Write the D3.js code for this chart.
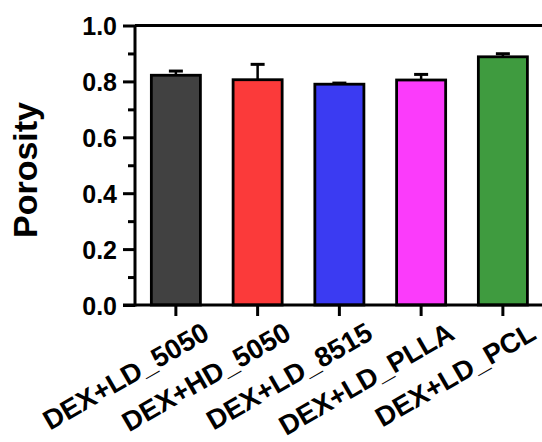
<!DOCTYPE html>
<html>
<head>
<meta charset="utf-8">
<script src="https://cdn.jsdelivr.net/npm/d3@7"></script>
<style>
  html, body { margin: 0; padding: 0; background: #fff; }
  svg { display: block; }
  text { font-family: "Liberation Sans", Arial, sans-serif; font-weight: bold; fill: #000; }
</style>
</head>
<body>
<script>
const categories = ["DEX+LD_5050", "DEX+HD_5050", "DEX+LD_8515", "DEX+LD_PLLA", "DEX+LD_PCL"];
const porosity   = [0.822, 0.806, 0.790, 0.805, 0.888];
const errors     = [0.015, 0.055, 0.004, 0.020, 0.011];
const colors     = ["#414141", "#fb3a3a", "#3b3bf2", "#fb3bfb", "#3f9b3f"];
const yTicks     = [0.0, 0.2, 0.4, 0.6, 0.8, 1.0];
const yMinorTicks = [0.1, 0.3, 0.5, 0.7, 0.9];

const W = 542, H = 442;
const x0 = 135, x1 = 543.75, yBottom = 305, yTop = 25.5;

const svg = d3.select("body").append("svg").attr("width", W).attr("height", H);

const x = d3.scaleBand().domain(categories).range([x0, x1]).paddingInner(0.4).paddingOuter(0.2);
const y = d3.scaleLinear().domain([0, 1]).range([yBottom, yTop]);

// top frame line
svg.append("line").attr("x1", x0).attr("x2", W + 5).attr("y1", y(1)).attr("y2", y(1))
  .attr("stroke", "#000").attr("stroke-width", 3);

const data = categories.map((c, i) => ({ c, v: porosity[i], e: errors[i], col: colors[i] }));

// error bars (upper only)
const capW = 14;
svg.selectAll("line.err").data(data).enter().append("line")
  .attr("x1", d => x(d.c) + x.bandwidth() / 2).attr("x2", d => x(d.c) + x.bandwidth() / 2)
  .attr("y1", d => y(d.v)).attr("y2", d => y(d.v + d.e))
  .attr("stroke", "#000").attr("stroke-width", 2.5);
svg.selectAll("line.cap").data(data).enter().append("line")
  .attr("x1", d => x(d.c) + x.bandwidth() / 2 - capW / 2).attr("x2", d => x(d.c) + x.bandwidth() / 2 + capW / 2)
  .attr("y1", d => y(d.v + d.e)).attr("y2", d => y(d.v + d.e))
  .attr("stroke", "#000").attr("stroke-width", 3);

// bars
svg.selectAll("rect.bar").data(data).enter().append("rect")
  .attr("x", d => x(d.c)).attr("width", x.bandwidth())
  .attr("y", d => y(d.v)).attr("height", d => y(0) - y(d.v))
  .attr("fill", d => d.col).attr("stroke", "#000").attr("stroke-width", 2.8);

// y axis
const yAxis = d3.axisLeft(y).tickValues(yTicks).tickFormat(d3.format(".1f")).tickSize(12).tickPadding(6);
const gy = svg.append("g").attr("transform", `translate(${x0},0)`).call(yAxis);
gy.select(".domain").attr("stroke-width", 3).attr("d", `M0,${yBottom + 1.5}V${yTop}`);
gy.selectAll(".tick line").attr("stroke-width", 3);
gy.selectAll(".tick text").style("font-size", "25px").attr("dy", "0.36em");
const yMinor = d3.axisLeft(y).tickValues(yMinorTicks).tickSize(7).tickFormat("");
const gym = svg.append("g").attr("transform", `translate(${x0},0)`).call(yMinor);
gym.select(".domain").remove();
gym.selectAll(".tick line").attr("stroke-width", 3);

// x axis
const xAxis = d3.axisBottom(x).tickSize(11).tickFormat("");
const gx = svg.append("g").attr("transform", `translate(0,${yBottom})`).call(xAxis);
gx.select(".domain").attr("stroke-width", 3).attr("d", `M${x0 - 12},0H${W + 5}`);
gx.selectAll(".tick line").attr("stroke-width", 3);

// rotated x labels
svg.selectAll("text.xl").data(categories).enter().append("text")
  .attr("class", "xl")
  .attr("text-anchor", "end")
  .style("font-size", "27.5px")
  .attr("transform", d => `translate(${x(d) + x.bandwidth() / 2 + 35},${yBottom + 33}) rotate(-30)`)
  .text(d => d);

// y label
svg.append("text")
  .attr("text-anchor", "middle")
  .style("font-size", "34px")
  .attr("transform", `translate(37,170) rotate(-90)`)
  .text("Porosity");
</script>
</body>
</html>
